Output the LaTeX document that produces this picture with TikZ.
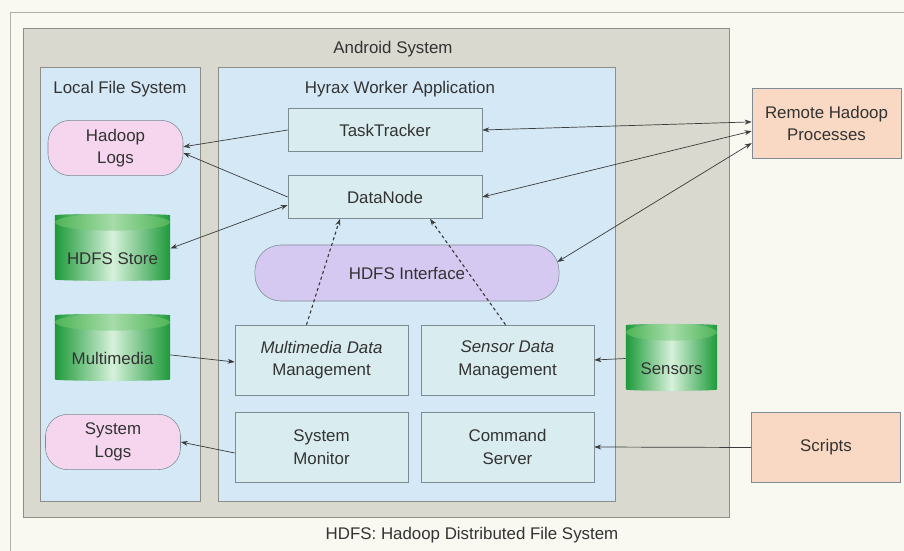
\documentclass[tikz,border=0pt]{standalone}
\usepackage{fontspec}
\setmainfont{Liberation Sans}
\usetikzlibrary{
arrows.meta,
shapes.geometric,
}
\definecolor{bgcream}{HTML}{F9F9F2}
\definecolor{framegray}{HTML}{8E8E86}
\definecolor{androidgray}{HTML}{D9D9D0}
\definecolor{lfsblue}{HTML}{D4E8F6}
\definecolor{procfill}{HTML}{D9ECEF}
\definecolor{boxline}{HTML}{7D8C94}
\definecolor{pinkfill}{HTML}{F5D6EE}
\definecolor{lavfill}{HTML}{D6C9F1}
\definecolor{peachfill}{HTML}{F9D9C3}
\definecolor{linkgray}{HTML}{3C3C3C}
\definecolor{textgray}{HTML}{333333}
\definecolor{cylgreen}{HTML}{1E9A3A}
\definecolor{cyllight}{HTML}{D6F1DA}
\definecolor{cyltop}{HTML}{4DB456}
\definecolor{cyltoplight}{HTML}{A6DCA8}

\begin{document}
\begin{tikzpicture}[x=0.025cm, y=-0.025cm,
	every node/.style={font=\fontsize{12}{16}\selectfont, text=textgray},
	>={Stealth[length=5pt, width=3.5pt]},
	procbox/.style={draw=boxline, fill=procfill, align=center, minimum width=4.325cm, minimum height=1.75cm},
	logbox/.style={draw=boxline, fill=pinkfill, rounded corners=0.55cm, align=center, minimum width=3.375cm, minimum height=1.38cm},
	remotebox/.style={draw=boxline, fill=peachfill, align=center, minimum width=3.725cm, minimum height=1.75cm},
	store/.style={shape=cylinder, shape border rotate=90, aspect=0.3, draw=none,
		minimum width=2*#1, minimum height=1.675cm,
		left color=cylgreen, right color=cylgreen, middle color=cyllight,
		path picture={\shade[left color=cyltop, right color=cyltop, middle color=cyltoplight]
			([yshift=-0.21cm]path picture bounding box.north) ellipse (#1 and 0.21cm);}},
	arr/.style={draw=linkgray, line width=0.5pt, ->},
	twoway/.style={draw=linkgray, line width=0.5pt, <->},
	depends/.style={draw=linkgray, line width=0.8pt, dash pattern=on 2.2pt off 2pt, ->},
]
\useasboundingbox (0,0) rectangle (904,551);
\fill[bgcream] (0,0) rectangle (904,551);
\draw[framegray!70] (10,551) -- (10,12) -- (904,12);

% containers
\filldraw[fill=androidgray, draw=framegray] (23,28) rectangle (729,517);
\filldraw[fill=lfsblue, draw=framegray] (40,67) rectangle (200,501);
\filldraw[fill=lfsblue, draw=framegray] (218,67) rectangle (615,501);
\node (androidtitle) at (393,49) {Android System};
\node (lfstitle) at (120,89) {Local File System};
\node (hyraxtitle) at (400,89) {Hyrax Worker Application};

% worker application
\node[procbox, minimum width=4.85cm, minimum height=1.075cm] (tasktracker) at (385,130) {TaskTracker};
\node[procbox, minimum width=4.85cm, minimum height=1.075cm] (datanode) at (385,197) {DataNode};
\node[draw=boxline, fill=lavfill, rounded corners=0.65cm, minimum width=7.6cm, minimum height=1.4cm] (hdfsif) at (407,273) {HDFS Interface};
\node[procbox] (mdm) at (321.5,360) {\itshape Multimedia Data\\Management};
\node[procbox] (sdm) at (507.5,360) {\itshape Sensor Data\\Management};
\node[procbox] (sysmon) at (321.5,447) {System\\Monitor};
\node[procbox] (cmdsrv) at (507.5,447) {Command\\Server};

% local file system
\node[logbox] (hadooplogs) at (115.5,148) {Hadoop\\Logs};
\node[store=1.4375cm, label={[yshift=-0.25cm]center:HDFS Store}] (hdfsstore) at (112.5,248.5) {};
\node[store=1.4375cm, label={[yshift=-0.25cm]center:Multimedia}] (multimedia) at (112.5,348.5) {};
\node[logbox] (syslogs) at (113,442) {System\\Logs};

% outside
\node[store=1.1375cm, label={[yshift=-0.25cm]center:Sensors}] (sensors) at (671.5,358.5) {};
\node[remotebox] (remote) at (826.5,123.5) {Remote Hadoop\\Processes};
\node[remotebox] (scripts) at (826,447.5) {Scripts};

\node (caption) at (472,535) {HDFS: Hadoop Distributed File System};

% connectors
\draw[twoway] (tasktracker.east) -- ([yshift=0.04cm]remote.west);
\draw[twoway] (datanode.east) -- ([yshift=-0.19cm]remote.west);
\draw[twoway] ([xshift=-0.05cm, yshift=0.275cm]hdfsif.east) -- ([yshift=-0.49cm]remote.west);
\draw[arr] (tasktracker.west) -- ([yshift=0.03cm]hadooplogs.east);
\draw[arr] (datanode.west) -- ([yshift=-0.125cm]hadooplogs.east);
\draw[twoway] ([yshift=-0.2cm]datanode.west) -- (hdfsstore.east);
\draw[arr] ([yshift=-0.16cm]multimedia.east) -- ([yshift=-0.05cm]mdm.west);
\draw[arr] (sensors.west) -- (sdm.east);
\draw[arr] ([yshift=-0.15cm]sysmon.west) -- (syslogs.east);
\draw[arr] (scripts.west) -- (cmdsrv.east);
\draw[depends] ([xshift=-0.375cm]mdm.north) -- ([xshift=-1.125cm]datanode.south);
\draw[depends] ([xshift=-0.05cm]sdm.north) -- ([xshift=1.125cm]datanode.south);
\end{tikzpicture}
\end{document}
